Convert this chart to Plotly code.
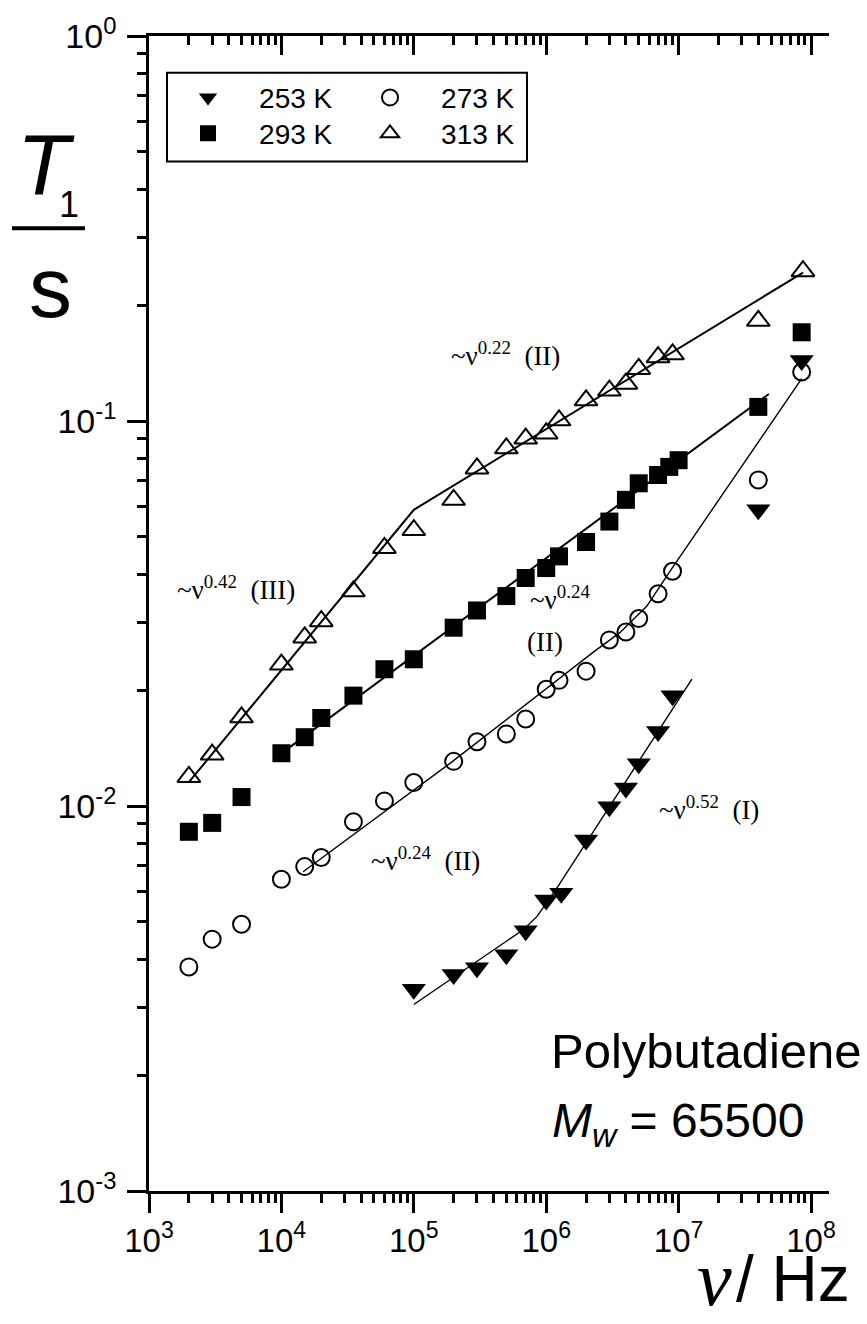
import plotly.graph_objects as go

# ---------------- data ----------------
freq_253 = [1e5, 2e5, 3e5, 5e5, 7e5, 1e6, 1.3e6, 2e6, 3e6, 4e6, 5e6, 7e6, 9e6, 4e7, 8.5e7]
t1_253 = [0.00334, 0.00365, 0.00380, 0.00411, 0.00474, 0.00570, 0.00593, 0.00816, 0.00995,
          0.01114, 0.01288, 0.01561, 0.01935, 0.0588, 0.1435]

freq_273 = [2e3, 3e3, 5e3, 1e4, 1.5e4, 2e4, 3.5e4, 6e4, 1e5, 2e5, 3e5, 5e5, 7e5, 1e6, 1.25e6,
            2e6, 3e6, 4e6, 5e6, 7e6, 9e6, 4e7, 8.5e7]
t1_273 = [0.00382, 0.00451, 0.00493, 0.00645, 0.00696, 0.00735, 0.00910, 0.01031, 0.01151,
          0.01306, 0.01468, 0.01539, 0.01683, 0.0201, 0.0212, 0.0224, 0.0270, 0.0283, 0.0307,
          0.0356, 0.0407, 0.0703, 0.134]

freq_293 = [2e3, 3e3, 5e3, 1e4, 1.5e4, 2e4, 3.5e4, 6e4, 1e5, 2e5, 3e5, 5e5, 7e5, 1e6, 1.25e6,
            2e6, 3e6, 4e6, 5e6, 7e6, 8.5e6, 1e7, 4e7, 8.5e7]
t1_293 = [0.00857, 0.00904, 0.01055, 0.01371, 0.01509, 0.01693, 0.01935, 0.02266, 0.02405,
          0.02905, 0.0322, 0.0351, 0.0391, 0.0415, 0.0445, 0.0485, 0.0548, 0.0624, 0.0689,
          0.0724, 0.0760, 0.0791, 0.1088, 0.170]

freq_313 = [2e3, 3e3, 5e3, 1e4, 1.5e4, 2e4, 3.5e4, 6e4, 1e5, 2e5, 3e5, 5e5, 7e5, 1e6, 1.25e6,
            2e6, 3e6, 4e6, 5e6, 7e6, 9e6, 4e7, 8.7e7]
t1_313 = [0.0119, 0.0136, 0.0170, 0.0233, 0.0274, 0.0302, 0.0361, 0.0468, 0.0521, 0.0624,
          0.0753, 0.0849, 0.0900, 0.0928, 0.1004, 0.1132, 0.120, 0.125, 0.1365, 0.1465, 0.149,
          0.182, 0.245]

# power-law guide lines
fit_253_x = [1.0e5, 6.7e5, 8.5e5, 1.2e6, 1.26e7]
fit_253_y = [0.00305, 0.00477, 0.00516, 0.00611, 0.02135]
fit_273_x = [1.46e4, 1.93e5, 2.27e6, 3.6e6, 5.74e6, 8.6e6, 8.5e7]
fit_273_y = [0.00675, 0.0130, 0.0251, 0.0282, 0.0330, 0.0407, 0.1288]
fit_293_x = [1.0e4, 4.8e7]
fit_293_y = [0.0137, 0.1175]
fit_313_x = [2.0e3, 1.0e5, 8.7e7]
fit_313_y = [0.01153, 0.0588, 0.243]

x_tickvals = [1e3, 1e4, 1e5, 1e6, 1e7, 1e8]
x_ticktext = ["10<sup>3</sup>", "10<sup>4</sup>", "10<sup>5</sup>", "10<sup>6</sup>",
              "10<sup>7</sup>", "10<sup>8</sup>"]
y_tickvals = [1e-3, 1e-2, 1e-1, 1e0]
y_ticktext = ["10<sup>-3</sup>", "10<sup>-2</sup>", "10<sup>-1</sup>", "10<sup>0</sup>"]
x_minor = [m * 10 ** k for k in range(3, 8) for m in range(2, 10)]
y_minor = [m * 10.0 ** k for k in range(-3, 0) for m in range(2, 10)]

legend_labels = ["253 K", "273 K", "293 K", "313 K"]

# ---------------- figure geometry ----------------
W, H = 867, 1324
ML, MR, MT, MB = 149, 38, 31, 133
PW, PH = W - ML - MR, H - MT - MB


def px(x):
    return (x - ML) / PW


def py(y):
    return (H - MB - y) / PH


SANS = "Arial, Liberation Sans, sans-serif"
SERIF = "Times New Roman, Liberation Serif, serif"
NB = "\u00a0"

fig = go.Figure()

line_kw = dict(mode="lines", showlegend=False, hoverinfo="skip")
fig.add_trace(go.Scatter(x=fit_313_x, y=fit_313_y, line=dict(color="black", width=2), **line_kw))
fig.add_trace(go.Scatter(x=fit_293_x, y=fit_293_y, line=dict(color="black", width=2), **line_kw))
fig.add_trace(go.Scatter(x=fit_273_x, y=fit_273_y, line=dict(color="black", width=1.4), **line_kw))
fig.add_trace(go.Scatter(x=fit_253_x, y=fit_253_y, line=dict(color="black", width=1.4), **line_kw))

fig.add_trace(go.Scatter(
    x=freq_253, y=t1_253, mode="markers", name=NB * 4 + legend_labels[0], legend="legend",
    marker=dict(symbol="triangle-down", size=21, color="black", line=dict(width=0))))
fig.add_trace(go.Scatter(
    x=freq_273, y=t1_273, mode="markers", name=NB * 4 + legend_labels[1], legend="legend",
    marker=dict(symbol="circle-open", size=17, color="black", line=dict(width=2))))
fig.add_trace(go.Scatter(
    x=freq_293, y=t1_293, mode="markers", name=NB * 4 + legend_labels[2], legend="legend2",
    marker=dict(symbol="square", size=18, color="black", line=dict(width=0))))
fig.add_trace(go.Scatter(
    x=freq_313, y=t1_313, mode="markers", name=NB * 4 + legend_labels[3], legend="legend2",
    marker=dict(symbol="triangle-up-open", size=20, color="black", line=dict(width=2)),
    xaxis="x2"))

xtickfont = dict(family=SANS, size=33, color="black")
ytickfont = dict(family=SANS, size=34, color="black")
xr = [3, 3 + (829 - 149) / 132.4]
fig.update_layout(
    width=W, height=H,
    margin=dict(l=ML, r=MR, t=MT, b=MB),
    paper_bgcolor="white", plot_bgcolor="white",
    xaxis=dict(type="log", range=xr, showgrid=False, zeroline=False,
               showline=True, linecolor="black", linewidth=2.5,
               ticks="outside", ticklen=19, tickwidth=2.5, tickcolor="black",
               tickmode="array", tickvals=x_tickvals, ticktext=x_ticktext, tickfont=xtickfont,
               minor=dict(ticks="outside", ticklen=9, tickwidth=2.5, tickcolor="black",
                          tickmode="array", tickvals=x_minor, showgrid=False)),
    xaxis2=dict(type="log", range=xr, overlaying="x", side="top",
                anchor="y", showgrid=False, zeroline=False, showline=True, linecolor="black",
                linewidth=2.5, ticks="inside", ticklen=19, tickwidth=2.5, tickcolor="black",
                tickmode="array", tickvals=x_tickvals, showticklabels=False,
                minor=dict(ticks="inside", ticklen=9, tickwidth=2.5, tickcolor="black",
                           tickmode="array", tickvals=x_minor, showgrid=False)),
    yaxis=dict(type="log", range=[-3, 0], showgrid=False, zeroline=False,
               showline=True, linecolor="black", linewidth=2.5,
               ticks="outside", ticklen=19, tickwidth=2.5, tickcolor="black",
               tickmode="array", tickvals=y_tickvals, ticktext=y_ticktext, tickfont=ytickfont,
               ticklabelstandoff=4,
               minor=dict(ticks="outside", ticklen=9, tickwidth=2.5, tickcolor="black",
                          tickmode="array", tickvals=y_minor, showgrid=False)),
    legend=dict(orientation="h", x=px(188), y=py(93), xanchor="left", yanchor="middle",
                bgcolor="rgba(0,0,0,0)", borderwidth=0,
                font=dict(family=SANS, size=28, color="black"),
                entrywidth=137, entrywidthmode="pixels", itemwidth=30, tracegroupgap=0),
    legend2=dict(orientation="h", x=px(188), y=py(129), xanchor="left", yanchor="middle",
                 bgcolor="rgba(0,0,0,0)", borderwidth=0,
                 font=dict(family=SANS, size=28, color="black"),
                 entrywidth=137, entrywidthmode="pixels", itemwidth=30, tracegroupgap=0),
    showlegend=True,
)

# legend frame
fig.add_shape(type="rect", xref="paper", yref="paper", x0=px(167), x1=px(527),
              y0=py(68), y1=py(157), line=dict(color="black", width=2), fillcolor="rgba(0,0,0,0)")

# y-axis title as fraction T1 / s
fig.add_annotation(x=px(46), y=py(160), xref="paper", yref="paper", text="<i>T</i>",
                   showarrow=False, font=dict(family=SANS, size=86, color="black"),
                   xanchor="center", yanchor="middle")
fig.add_annotation(x=px(69), y=py(200), xref="paper", yref="paper", text="1",
                   showarrow=False, font=dict(family=SANS, size=36, color="black"),
                   xanchor="center", yanchor="middle")
fig.add_shape(type="line", xref="paper", yref="paper", x0=px(12), x1=px(85), y0=py(224),
              y1=py(224), line=dict(color="black", width=4))
fig.add_annotation(x=px(50), y=py(283), xref="paper", yref="paper", text="s",
                   showarrow=False, font=dict(family=SANS, size=86, color="black"),
                   xanchor="center", yanchor="middle")

# x-axis title  ν / Hz
fig.add_annotation(x=px(734), y=py(1279), xref="paper", yref="paper", text="<i>ν</i>",
                   showarrow=False, font=dict(family=SERIF, size=78, color="black"),
                   xanchor="right", yanchor="middle")
fig.add_annotation(x=px(852), y=py(1279), xref="paper", yref="paper", text="/ Hz",
                   showarrow=False, font=dict(family=SANS, size=64, color="black"),
                   xanchor="right", yanchor="middle")

# sample annotations
fig.add_annotation(x=px(864), y=py(1050), xref="paper", yref="paper", text="Polybutadiene",
                   showarrow=False, font=dict(family=SANS, size=49, color="black"),
                   xanchor="right", yanchor="middle")
fig.add_annotation(x=px(550), y=py(1124), xref="paper", yref="paper",
                   text="<i>M</i><sub><i>w</i></sub> = 65500",
                   showarrow=False, font=dict(family=SANS, size=48, color="black"),
                   xanchor="left", yanchor="middle")

# power-law labels
lab_font = dict(family=SERIF, size=27, color="black")
labels = [
    (505, 350, "~ν<sup>0.22</sup>" + NB * 2 + "(II)"),
    (236, 585, "~ν<sup>0.42</sup>" + NB * 2 + "(III)"),
    (560, 595, "~ν<sup>0.24</sup>"),
    (545, 640, "(II)"),
    (425, 858, "~ν<sup>0.24</sup>" + NB * 2 + "(II)"),
    (709, 806, "~ν<sup>0.52</sup>" + NB * 2 + "(I)"),
]
for lx, ly, txt in labels:
    fig.add_annotation(x=px(lx), y=py(ly), xref="paper", yref="paper", text=txt,
                       showarrow=False, font=lab_font, xanchor="center", yanchor="middle")

fig.write_html("out.html", config={"displayModeBar": False},
               post_script="document.body.style.margin='0';")
